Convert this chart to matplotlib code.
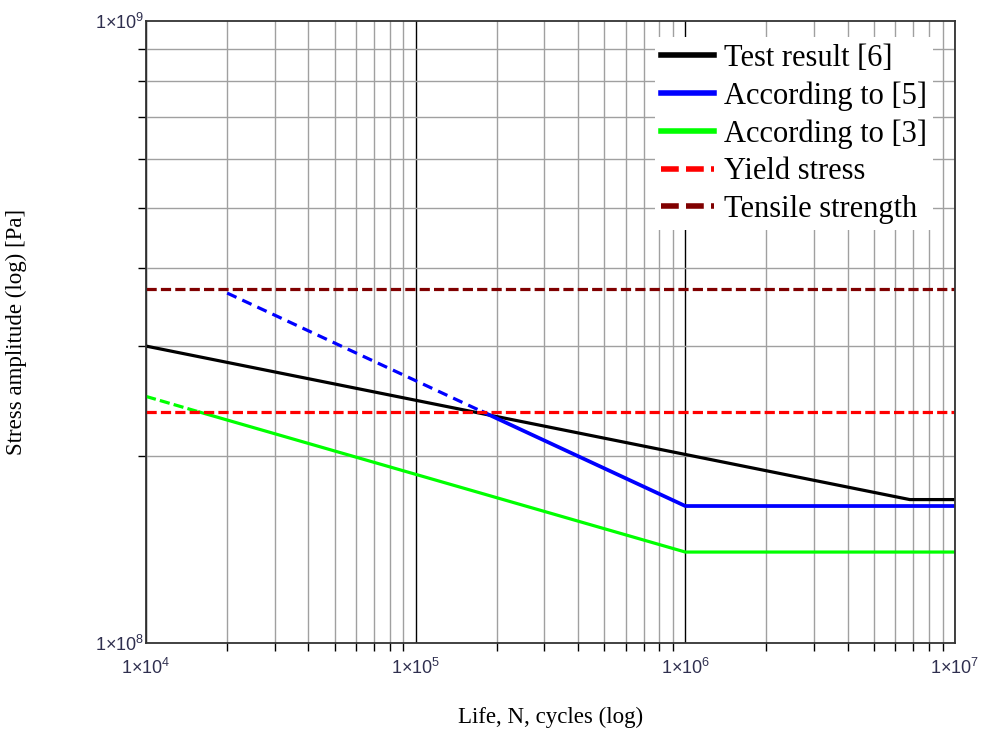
import numpy as np
import matplotlib.pyplot as plt
from matplotlib.ticker import LogLocator, FuncFormatter, NullFormatter

# S-N curve data (cycles, stress amplitude in Pa)
test_N = [1e4, 6.8e6, 1e7]
test_S = [3.0e8, 1.7e8, 1.7e8]

ref5_dash_N = [2e4, 1.78e5]
ref5_dash_S = [3.65e8, 2.35e8]
ref5_N = [1.78e5, 1e6, 1e7]
ref5_S = [2.35e8, 1.66e8, 1.66e8]

ref3_dash_N = [1e4, 1.58e4]
ref3_dash_S = [2.49e8, 2.35e8]
ref3_N = [1.58e4, 1e6, 1e7]
ref3_S = [2.35e8, 1.40e8, 1.40e8]

yield_stress = 2.35e8
tensile_strength = 3.7e8

labels = ["Test result [6]", "According to [5]", "According to [3]",
          "Yield stress", "Tensile strength"]

plt.rcParams['font.family'] = ['Liberation Sans', 'DejaVu Sans']
plt.rcParams['mathtext.fontset'] = 'custom'
plt.rcParams['mathtext.rm'] = 'Liberation Sans'
plt.rcParams['mathtext.it'] = 'Liberation Sans'
plt.rcParams['mathtext.bf'] = 'Liberation Sans'

fig = plt.figure(figsize=(9.84, 7.31), dpi=100)
ax = fig.add_axes([0.1484, 0.1204, 0.8221, 0.8513])

ax.set_xscale('log')
ax.set_yscale('log')
ax.set_xlim(1e4, 1e7)
ax.set_ylim(1e8, 1e9)

# grid: gray minor lines, black decade lines on x
ax.grid(which='minor', color='#a0a0a0', lw=1.0, zorder=0)
ax.grid(which='major', axis='x', color='black', lw=1.0, zorder=0)
ax.set_axisbelow(True)

lw = 2.3
dash = (3.2, 1.3)
ax.plot(test_N, test_S, color='black', lw=lw, label=labels[0])
ax.plot(ref5_N, ref5_S, color='#0000ff', lw=lw + 0.4, label=labels[1])
ax.plot(ref5_dash_N, ref5_dash_S, color='#0000ff', lw=lw, dashes=(3.2, 2.0))
ax.plot(ref3_N, ref3_S, color='#00ff00', lw=lw, label=labels[2])
ax.plot(ref3_dash_N, ref3_dash_S, color='#00ff00', lw=lw, dashes=dash)
ax.axhline(yield_stress, color='#ff0000', lw=lw, dashes=dash, label=labels[3])
ax.axhline(tensile_strength, color='#800000', lw=lw, dashes=dash, label=labels[4])

ax.xaxis.set_major_locator(LogLocator(base=10, numticks=10))
ax.yaxis.set_major_locator(LogLocator(base=10, numticks=10))
ax.xaxis.set_minor_locator(LogLocator(base=10, subs=np.arange(2, 10), numticks=20))
ax.yaxis.set_minor_locator(LogLocator(base=10, subs=np.arange(2, 10), numticks=20))
ax.xaxis.set_minor_formatter(NullFormatter())
ax.yaxis.set_minor_formatter(NullFormatter())
fmt = FuncFormatter(lambda v, p: '1\u00d710$^{%d}$' % round(np.log10(v)))
ax.xaxis.set_major_formatter(fmt)
ax.yaxis.set_major_formatter(fmt)

ax.tick_params(which='both', direction='out', top=False, right=False,
               length=6, width=1.0, color='black')
ax.tick_params(which='major', length=0, labelsize=13, labelcolor='#2f2f4f')
ax.tick_params(axis='x', which='major', pad=11)
ax.tick_params(axis='y', which='major', pad=1)

for s in ax.spines.values():
    s.set_color('#333333')
    s.set_linewidth(1.3)

ax.set_xlabel('Life, N, cycles (log)', fontfamily='Liberation Serif', fontsize=16.5)
ax.set_ylabel('Stress amplitude (log) [Pa]', fontfamily='Liberation Serif', fontsize=16.5)
ax.xaxis.set_label_coords(0.5, -0.102)
ax.yaxis.set_label_coords(-0.147, 0.5)

leg = ax.legend(loc='upper right', bbox_to_anchor=(0.973, 0.973),
                borderaxespad=0, frameon=True, fancybox=False,
                framealpha=1, edgecolor='none', facecolor='white',
                prop={'family': 'Liberation Serif', 'size': 22},
                handlelength=1.73, handletextpad=0.33, labelspacing=0.28,
                borderpad=0.2)
for h in leg.legend_handles:
    h.set_linewidth(4.0)

fig.savefig('out.png', dpi=100)
